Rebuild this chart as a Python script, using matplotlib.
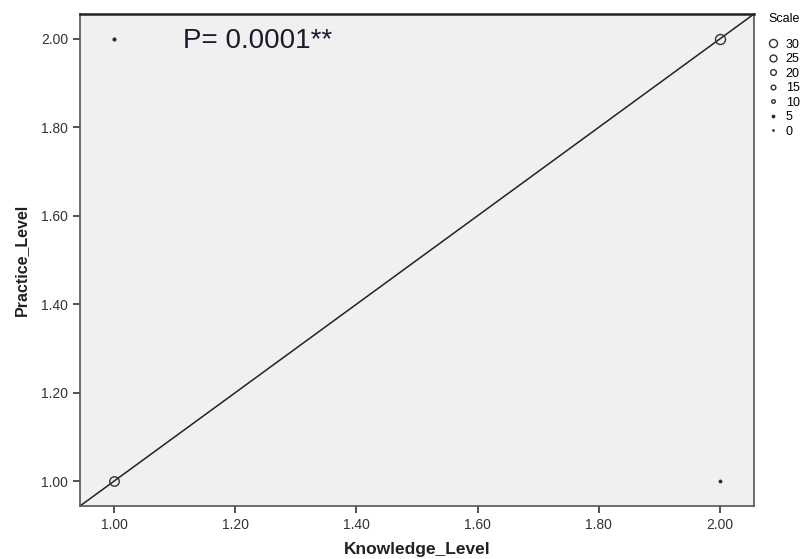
import matplotlib
matplotlib.use("Agg")
import matplotlib.pyplot as plt
from matplotlib.lines import Line2D

knowledge = [1.0, 2.0, 1.0, 2.0]
practice = [1.0, 2.0, 2.0, 1.0]
counts = [28, 30, 4, 3]
legend_values = [30, 25, 20, 15, 10, 5, 0]
xticks = [1.0, 1.2, 1.4, 1.6, 1.8, 2.0]
yticks = [1.0, 1.2, 1.4, 1.6, 1.8, 2.0]

def msize(c):
    # marker diameter in points
    return 1.2 + c * 0.2

fig = plt.figure(figsize=(8.04, 5.59), dpi=100)
ax = fig.add_axes([80/804, 1 - 506/559, (754-80)/804, (506-14)/559])
ax.set_facecolor("#f0f0f0")
lo, hi = 0.944, 2.056
ax.set_xlim(lo, hi)
ax.set_ylim(lo, hi)

ax.plot([lo, hi], [lo, hi], color="#222222", lw=1.1, zorder=2)

for x, y, c in zip(knowledge, practice, counts):
    filled = c < 10
    ax.plot(x, y, 'o', ms=msize(c), mfc="#111111" if filled else "none",
            mec="#333333", mew=1.0, zorder=3)

ax.text(1.114, 1.995, "P= 0.0001**", fontsize=20, color="#1a1a2e",
        va="center", ha="left", family="Liberation Sans")

ax.set_xticks(xticks)
ax.set_yticks(yticks)
ax.set_xticklabels([f"{v:.2f}" for v in xticks])
ax.set_yticklabels([f"{v:.2f}" for v in yticks])
ax.tick_params(labelsize=10, colors="#333333", length=5, width=1.2, direction="out")
for lab in ax.get_xticklabels() + ax.get_yticklabels():
    lab.set_family("Liberation Sans")

for s in ax.spines.values():
    s.set_color("#555555")
    s.set_linewidth(1.2)
ax.spines["top"].set_color("#222222")
ax.spines["top"].set_linewidth(1.8)

ax.set_xlabel("Knowledge_Level", fontsize=12.5, fontweight="bold", color="#222222",
              family="Liberation Sans", labelpad=7)
ax.set_ylabel("Practice_Level", fontsize=11.5, fontweight="bold", color="#222222",
              family="Liberation Sans", labelpad=9)

handles = []
for v in legend_values:
    filled = v < 10
    handles.append(Line2D([], [], ls="none", marker="o", ms=msize(v) * 0.8,
                          mfc="#111111" if filled else "none", mec="#333333", mew=1.0))
leg = ax.legend(handles, [str(v) for v in legend_values], title="Scale",
                loc="upper left", bbox_to_anchor=(1.008, 1.02), frameon=False,
                handlelength=0.8, handletextpad=0.6, labelspacing=0.2,
                borderaxespad=0.3, prop={"family": "Liberation Sans", "size": 9})
leg.get_title().set_family("Liberation Sans")
leg.get_title().set_fontsize(9)
leg._legend_box.align = "left"
leg._legend_box.sep = 10

fig.savefig("out.png", dpi=100)
